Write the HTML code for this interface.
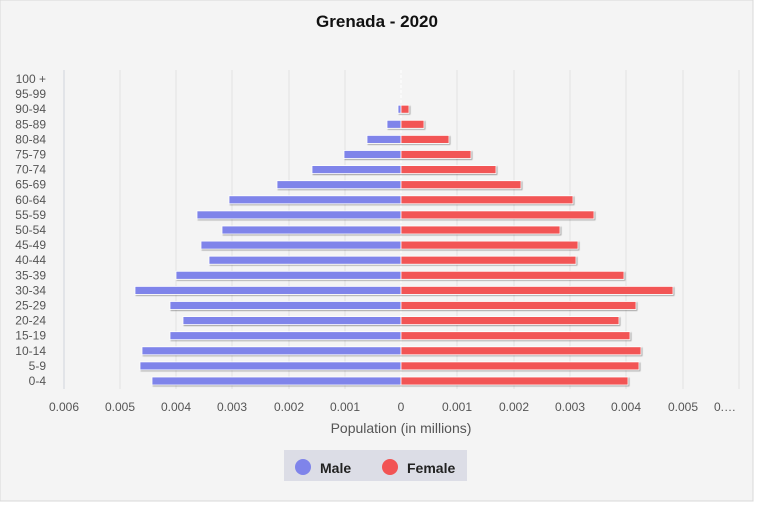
<!DOCTYPE html>
<html><head><meta charset="utf-8"><style>
body{margin:0;background:#fff}
svg{display:block;font-family:"Liberation Sans",sans-serif}
</style></head><body>
<svg width="758" height="505" viewBox="0 0 758 505">
<defs><filter id="s" x="-5%" y="-50%" width="110%" height="200%"><feDropShadow dx="1" dy="1" stdDeviation="0.6" flood-color="#000" flood-opacity="0.35"/></filter></defs>
<rect x="0" y="0" width="753" height="501" fill="#f4f4f4" stroke="#d8d8d8"/>
<text x="377" y="27" text-anchor="middle" font-size="17" font-weight="bold" fill="#111">Grenada - 2020</text>
<g stroke="#e2e2e2" stroke-width="1">
<line x1="64" y1="70" x2="64" y2="389" stroke="#cfd3dc"/>
<line x1="120" y1="70" x2="120" y2="389"/><line x1="176" y1="70" x2="176" y2="389"/>
<line x1="232" y1="70" x2="232" y2="389"/><line x1="289" y1="70" x2="289" y2="389"/>
<line x1="345" y1="70" x2="345" y2="389"/><line x1="457" y1="70" x2="457" y2="389"/>
<line x1="514" y1="70" x2="514" y2="389"/><line x1="570" y1="70" x2="570" y2="389"/>
<line x1="626" y1="70" x2="626" y2="389"/><line x1="683" y1="70" x2="683" y2="389"/>
<line x1="739" y1="70" x2="739" y2="389"/>
</g>
<line x1="401" y1="70" x2="401" y2="389" stroke="#fff" stroke-dasharray="3,2"/>
<g font-size="12" fill="#555" text-anchor="end" id="lab"></g>
<g id="bars" filter="url(#s)"></g>
<g font-size="12" fill="#555" text-anchor="middle">
<text x="64" y="411">0.006</text><text x="120" y="411">0.005</text><text x="176" y="411">0.004</text>
<text x="232" y="411">0.003</text><text x="289" y="411">0.002</text><text x="345" y="411">0.001</text>
<text x="401" y="411">0</text><text x="457" y="411">0.001</text><text x="514" y="411">0.002</text>
<text x="570" y="411">0.003</text><text x="626" y="411">0.004</text><text x="683" y="411">0.005</text>
<text x="725" y="411">0.…</text>
<text x="401" y="433" font-size="14">Population (in millions)</text>
</g>
<rect x="284" y="450" width="183" height="31" fill="#dcdde6"/>
<circle cx="303" cy="467" r="8" fill="#7f84ea"/>
<text x="320" y="473" font-size="14" font-weight="bold" fill="#222">Male</text>
<circle cx="390" cy="467" r="8" fill="#f25454"/>
<text x="407" y="473" font-size="14" font-weight="bold" fill="#222">Female</text>
<script>
var labels=["100 +","95-99","90-94","85-89","80-84","75-79","70-74","65-69","60-64","55-59","50-54","45-49","40-44","35-39","30-34","25-29","20-24","15-19","10-14","5-9","0-4"];
var m=[401,401,398,387,367,344,312,277,229,197,222,201,209,176,135,170,183,170,142,140,152];
var f=[401,401,409,424,449,471,496,521,573,594,560,578,576,624,673,636,619,630,641,639,628];
var ns="http://www.w3.org/2000/svg",L=document.getElementById("lab"),B=document.getElementById("bars");
for(var i=0;i<21;i++){var y=79+i*15.1;
var t=document.createElementNS(ns,"text");t.setAttribute("x",46);t.setAttribute("y",y+4);t.textContent=labels[i];L.appendChild(t);
if(m[i]<401){var r=document.createElementNS(ns,"rect");r.setAttribute("x",m[i]);r.setAttribute("y",y-4);r.setAttribute("width",401-m[i]);r.setAttribute("height",8);r.setAttribute("fill","#7f84ea");r.setAttribute("stroke","#fff");r.setAttribute("stroke-width","0.8");B.appendChild(r);}
if(f[i]>401){var r2=document.createElementNS(ns,"rect");r2.setAttribute("x",401);r2.setAttribute("y",y-4);r2.setAttribute("width",f[i]-401);r2.setAttribute("height",8);r2.setAttribute("fill","#f25454");r2.setAttribute("stroke","#fff");r2.setAttribute("stroke-width","0.8");B.appendChild(r2);}
}
</script>
</svg>
</body></html>
